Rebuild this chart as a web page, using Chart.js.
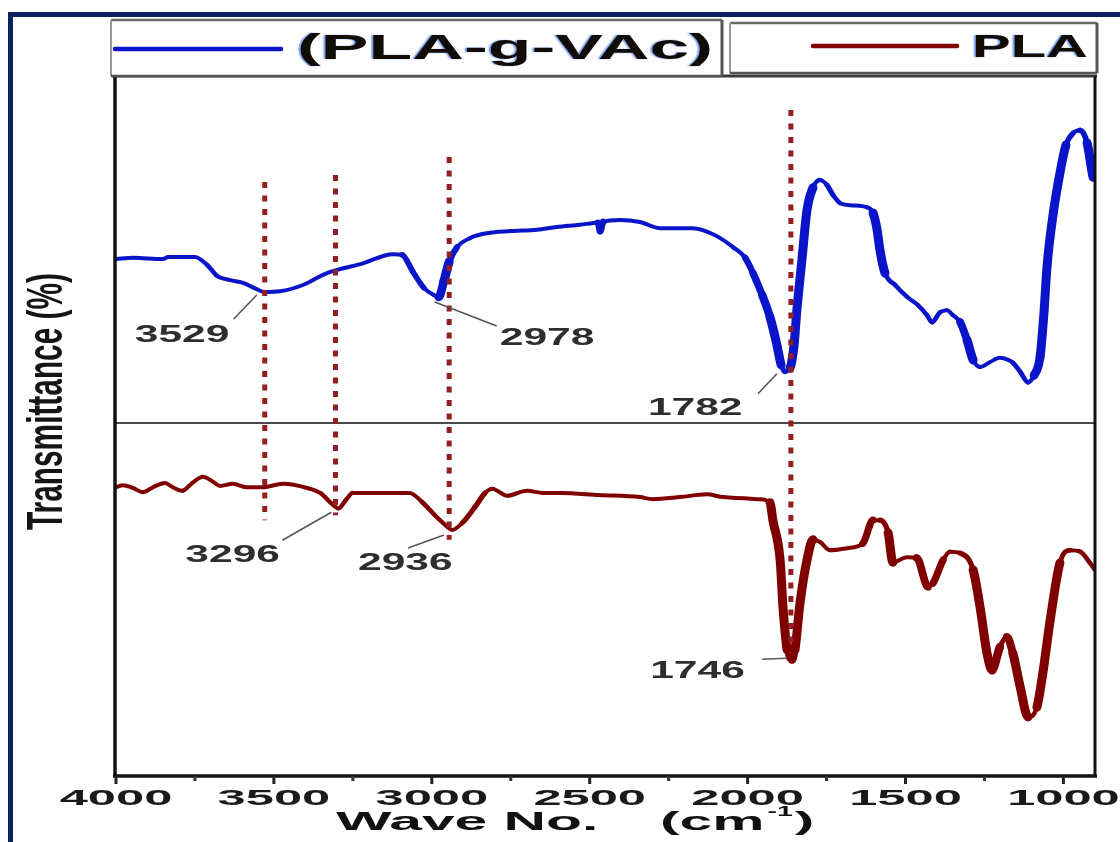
<!DOCTYPE html>
<html>
<head>
<meta charset="utf-8">
<title>FTIR spectra: PLA and PLA-g-VAc</title>
<script src="https://cdn.jsdelivr.net/npm/chart.js@4.4.1/dist/chart.umd.min.js"></script>
<style>
  html, body { margin: 0; padding: 0; background: #ffffff; }
  canvas { display: block; }
</style>
</head>
<body>
<canvas id="ftir" width="1120" height="842"></canvas>
<script>
// ---- Spectra (wavenumber in cm-1, transmittance in arbitrary offset units) ----
const seriesNames = ['(PLA-g-VAc)', 'PLA'];

const graftWave = [4000, 3946, 3851, 3835, 3750, 3712, 3680, 3639, 3598, 3554, 3529, 3481, 3408, 3332,
  3218, 3123, 3094, 3060, 3025, 2995, 2978, 2962, 2945, 2920, 2879, 2825, 2752, 2667, 2604, 2531,
  2474, 2467, 2458, 2404, 2341, 2277, 2173, 2103, 2046, 2008, 1983, 1954, 1929, 1907, 1894, 1882,
  1866, 1853, 1844, 1828, 1812, 1793, 1771, 1749, 1730, 1707, 1676, 1622, 1603, 1590, 1581, 1565,
  1533, 1495, 1460, 1432, 1416, 1391, 1369, 1350, 1327, 1305, 1286, 1264, 1232, 1201, 1175, 1160,
  1137, 1112, 1093, 1074, 1061, 1052, 1033, 1011, 992, 969, 947, 925, 906, 900];
const graftT = [73.7, 73.9, 73.7, 74.0, 74.0, 72.9, 71.3, 70.7, 70.3, 69.4, 69.0, 69.1, 70.0, 71.7,
  73.1, 74.4, 74.3, 71.9, 69.6, 68.6, 68.3, 70.5, 73.3, 75.4, 76.7, 77.4, 77.7, 77.9, 78.3, 78.6,
  78.9, 77.7, 79.0, 79.3, 79.0, 78.1, 78.1, 77.1, 75.4, 73.9, 71.7, 68.6, 65.4, 61.4, 58.6, 57.6,
  58.1, 61.4, 66.4, 73.6, 80.7, 83.9, 85.0, 84.3, 82.9, 81.7, 81.4, 81.1, 80.3, 77.9, 75.0, 71.7,
  70.0, 68.3, 67.1, 65.7, 64.7, 66.1, 66.4, 65.7, 64.7, 62.1, 59.3, 58.3, 59.0, 59.6, 59.3, 58.9,
  57.6, 56.1, 57.1, 59.7, 66.4, 72.6, 80.0, 86.0, 90.0, 91.7, 92.1, 90.3, 85.4, 85.0];

const plaWave = [4000, 3978, 3946, 3915, 3883, 3845, 3820, 3791, 3759, 3725, 3693, 3671, 3630, 3585,
  3535, 3471, 3395, 3350, 3318, 3296, 3272, 3250, 3218, 3154, 3091, 3070, 3031, 2990, 2949, 2936,
  2904, 2863, 2831, 2809, 2762, 2699, 2648, 2594, 2470, 2341, 2300, 2214, 2129, 2078, 1961, 1929,
  1920, 1897, 1888, 1875, 1859, 1850, 1834, 1812, 1793, 1771, 1739, 1685, 1635, 1603, 1581, 1555,
  1540, 1495, 1464, 1429, 1413, 1381, 1359, 1327, 1286, 1264, 1242, 1226, 1201, 1179, 1160, 1137,
  1112, 1084, 1065, 1042, 1011, 979, 947, 916, 900];
const plaT = [41.1, 41.4, 41.0, 40.4, 41.1, 41.7, 41.1, 40.6, 41.7, 42.6, 41.9, 41.3, 41.6, 41.1,
  41.1, 41.6, 41.0, 40.2, 38.8, 38.1, 39.3, 40.3, 40.3, 40.3, 40.3, 40.3, 39.0, 37.1, 35.4, 35.0,
  36.0, 38.3, 40.3, 40.9, 39.9, 40.6, 40.3, 40.3, 40.0, 39.7, 39.4, 39.7, 40.1, 39.7, 39.4, 38.9,
  36.4, 30.7, 24.0, 17.9, 16.4, 17.9, 24.6, 30.7, 33.6, 33.3, 32.1, 32.4, 33.1, 36.4, 36.4, 34.6,
  30.4, 31.1, 31.0, 26.9, 27.4, 30.7, 31.9, 31.7, 29.3, 24.0, 17.4, 15.0, 18.3, 19.7, 17.4, 12.6,
  8.3, 9.7, 14.6, 22.1, 30.3, 32.1, 31.9, 30.3, 29.3];

// ---- Axis ticks ----
const tickValues = [4000, 3500, 3000, 2500, 2000, 1500, 1000];
const minorTickValues = [3750, 3250, 2750, 2250, 1750, 1250];

// ---- Band assignments ----
const peakLabels = ['3529', '2978', '1782', '3296', '2936', '1746'];
const peakWave = [3529, 2978, 1882, 3296, 2936, 1859];
const peakSeries = [0, 0, 0, 1, 1, 1];

// ---- Dotted guide lines (wavenumber, upper and lower transmittance) ----
const guideWave = [3529, 3305, 2945, 1863];
const guideTop = [84.7, 85.7, 88.3, 95.0];
const guideBottom = [36.4, 37.1, 33.6, 18.6];

// Baseline between the two stacked spectra
const separatorT = 50.3;

// ---------------------------------------------------------------------------
const BLUE = '#0a14c8';
const MAROON = '#800000';
const GUIDE = '#921e1e';
const NAVY = '#0b2163';

// label text offsets (px) from each band's point, with leader start / end
const peakLayout = [
  { tx: -130, ty: 50, l0: [-8, 3], l1: [-31, 27] },
  { tx: 61, ty: 48, l0: [-4, 5], l1: [58, 29] },
  { tx: -137, ty: 43, l0: [-8, 2], l1: [-27, 22] },
  { tx: -153, ty: 54, l0: [-7, 4], l1: [-56, 32] },
  { tx: -94, ty: 40, l0: [-8, 5], l1: [-44, 18] },
  { tx: -142, ty: 18, l0: [-5, -2], l1: [-30, -1] }
];

function toPoints(xs, ys) {
  return xs.map((x, i) => ({ x: x, y: ys[i] }));
}

// long steep segments are stroked heavier, as in the recorded trace
function steepWidth(ctx) {
  const dx = Math.abs(ctx.p1.x - ctx.p0.x);
  const dy = Math.abs(ctx.p1.y - ctx.p0.y);
  const s = dy / Math.max(dx, 0.5);
  const k = Math.min(1, Math.max(0, (s - 0.7) / 2.5)) * Math.min(1, dy / 16);
  return 4 + 5 * k;
}

// draw text horizontally stretched by sx; returns drawn width
function stretched(ctx, text, x, y, font, sx, align, color) {
  ctx.save();
  ctx.font = font;
  const w = ctx.measureText(text).width * sx;
  let left = x;
  if (align === 'center') left = x - w / 2;
  else if (align === 'right') left = x - w;
  ctx.translate(left, y);
  ctx.scale(sx, 1);
  ctx.textAlign = 'left';
  ctx.textBaseline = 'alphabetic';
  ctx.fillStyle = color;
  ctx.fillText(text, 0, 0);
  ctx.restore();
  return w;
}

// draw text fitted to a given width
function fitted(ctx, text, left, y, font, width, color) {
  ctx.save();
  ctx.font = font;
  const sx = width / ctx.measureText(text).width;
  ctx.restore();
  return stretched(ctx, text, left, y, font, sx, 'left', color);
}

function line(ctx, x0, y0, x1, y1, w, color) {
  ctx.beginPath();
  ctx.moveTo(x0, y0);
  ctx.lineTo(x1, y1);
  ctx.lineWidth = w;
  ctx.strokeStyle = color;
  ctx.stroke();
}

function legendBox(ctx, x0, y0, x1, y1) {
  ctx.save();
  ctx.fillStyle = '#ffffff';
  ctx.fillRect(x0, y0, x1 - x0, y1 - y0);
  line(ctx, x0, y0, x1, y0, 2.5, '#6a6a6a');
  line(ctx, x0, y0, x0, y1, 2, '#9a9a9a');
  line(ctx, x1, y0, x1, y1, 3, '#555555');
  line(ctx, x0, y1, x1, y1, 2.5, '#555555');
  ctx.restore();
}

const ftirDecor = {
  id: 'ftirDecor',
  beforeDraw(chart) {
    const ctx = chart.ctx;
    ctx.save();
    ctx.fillStyle = NAVY;
    ctx.fillRect(8, 12, chart.width - 8, 5);
    ctx.fillRect(8, 12, 5, chart.height - 12);
    ctx.restore();
  },
  beforeDatasetsDraw(chart) {
    const { ctx, chartArea: a, scales: { y } } = chart;
    const py = y.getPixelForValue(separatorT);
    ctx.save();
    line(ctx, a.left, py, a.right, py, 2, '#4a4a4a');
    ctx.restore();
  },
  afterDatasetsDraw(chart) {
    const { ctx, scales: { x, y } } = chart;
    ctx.save();
    ctx.setLineDash([6, 7.5]);
    ctx.lineCap = 'butt';
    guideWave.forEach((w, i) => {
      const px = x.getPixelForValue(w);
      line(ctx, px, y.getPixelForValue(guideTop[i]), px, y.getPixelForValue(guideBottom[i]), 5, GUIDE);
    });
    ctx.restore();
  },
  afterDraw(chart) {
    const { ctx, chartArea: a, scales: { x, y } } = chart;
    ctx.save();

    // plot frame
    line(ctx, a.left - 4, a.top + 1, a.right + 2, a.top + 1, 3, '#3a3a3a');
    line(ctx, a.left - 1, a.top + 1, a.left - 1, a.bottom + 1, 3.5, '#111111');
    line(ctx, a.right, a.top + 1, a.right, a.bottom + 1, 3, '#111111');
    line(ctx, a.left - 3, a.bottom + 1, a.right + 2, a.bottom + 1, 3.5, '#111111');

    // x ticks
    tickValues.forEach(v => {
      const px = x.getPixelForValue(v);
      line(ctx, px, a.bottom + 1, px, a.bottom + 9, 3, '#222222');
      stretched(ctx, String(v), px, a.bottom + 30, 'bold 22px "Liberation Sans", Arial, sans-serif', 2.3, 'center', '#1a1a1a');
    });
    minorTickValues.forEach(v => {
      const px = x.getPixelForValue(v);
      line(ctx, px, a.bottom + 1, px, a.bottom + 6, 3, '#333333');
    });

    // x axis title: Wave No.  (cm-1)
    const tf = 'bold 25px "Liberation Sans", Arial, sans-serif';
    const titleY = a.bottom + 55;
    stretched(ctx, 'Wave No.', 336, titleY, tf, 2.35, 'left', '#111111');
    let cx = 660;
    cx += stretched(ctx, '(cm', cx, titleY, tf, 2.35, 'left', '#111111');
    cx += 3;
    cx += stretched(ctx, '-1', cx, titleY - 14, 'bold 15px "Liberation Sans", Arial, sans-serif', 1.9, 'left', '#111111');
    stretched(ctx, ')', cx + 2, titleY, tf, 2.35, 'left', '#111111');

    // y axis title
    ctx.save();
    ctx.translate(62, 401.5);
    ctx.rotate(-Math.PI / 2);
    ctx.font = 'bold 50px "Liberation Sans", Arial, sans-serif';
    const yt = 'Transmittance (%)';
    const ysx = 257 / ctx.measureText(yt).width;
    ctx.scale(ysx, 1);
    ctx.fillStyle = '#151515';
    ctx.textAlign = 'center';
    ctx.textBaseline = 'alphabetic';
    ctx.fillText(yt, 0, 0);
    ctx.restore();

    // legend
    const ds = chart.data.datasets;
    legendBox(ctx, 111, 20, 722, 76);
    legendBox(ctx, 730, 23, 1097, 73);
    ctx.lineCap = 'round';
    line(ctx, 115, 49, 281, 49, 4.5, ds[0].borderColor);
    line(ctx, 813, 46, 957, 46, 4.5, ds[1].borderColor);
    ctx.lineCap = 'butt';
    ctx.save();
    ctx.shadowColor = 'rgba(20, 90, 230, 0.6)';
    ctx.shadowOffsetX = -2;
    ctx.shadowBlur = 1.5;
    fitted(ctx, ds[0].label, 297, 59, 'bold 35px "Liberation Sans", Arial, sans-serif', 416, '#120c06');
    fitted(ctx, ds[1].label, 972, 57, 'bold 32px "Liberation Sans", Arial, sans-serif', 116, '#120c06');
    ctx.restore();

    // band labels with leader lines
    peakLabels.forEach((txt, i) => {
      const s = peakSeries[i];
      const pts = s === 0 ? graftWave : plaWave;
      const vals = s === 0 ? graftT : plaT;
      let k = 0;
      pts.forEach((w, j) => { if (Math.abs(w - peakWave[i]) < Math.abs(pts[k] - peakWave[i])) k = j; });
      const px = x.getPixelForValue(pts[k]);
      const py = y.getPixelForValue(vals[k]);
      const L = peakLayout[i];
      line(ctx, px + L.l0[0], py + L.l0[1], px + L.l1[0], py + L.l1[1], 1.6, '#555555');
      stretched(ctx, txt, px + L.tx, py + L.ty, 'bold 23px "Liberation Sans", Arial, sans-serif', 1.85, 'left', '#2e2e2e');
    });

    ctx.restore();
  }
};

new Chart(document.getElementById('ftir'), {
  type: 'line',
  data: {
    datasets: [
      {
        label: seriesNames[0],
        data: toPoints(graftWave, graftT),
        borderColor: BLUE,
        borderWidth: 4,
        pointRadius: 0,
        fill: false,
        cubicInterpolationMode: 'monotone',
        segment: { borderWidth: steepWidth }
      },
      {
        label: seriesNames[1],
        data: toPoints(plaWave, plaT),
        borderColor: MAROON,
        borderWidth: 4,
        pointRadius: 0,
        fill: false,
        cubicInterpolationMode: 'monotone',
        segment: { borderWidth: steepWidth }
      }
    ]
  },
  options: {
    responsive: false,
    animation: false,
    devicePixelRatio: 1,
    layout: { padding: { left: 116, right: 25, top: 75, bottom: 67 } },
    elements: { line: { borderJoinStyle: 'round', borderCapStyle: 'round' } },
    plugins: { legend: { display: false }, tooltip: { enabled: false } },
    scales: {
      x: { type: 'linear', reverse: true, min: 900, max: 4000, display: false },
      y: { type: 'linear', min: 0, max: 100, display: false }
    }
  },
  plugins: [ftirDecor]
});
</script>
</body>
</html>
